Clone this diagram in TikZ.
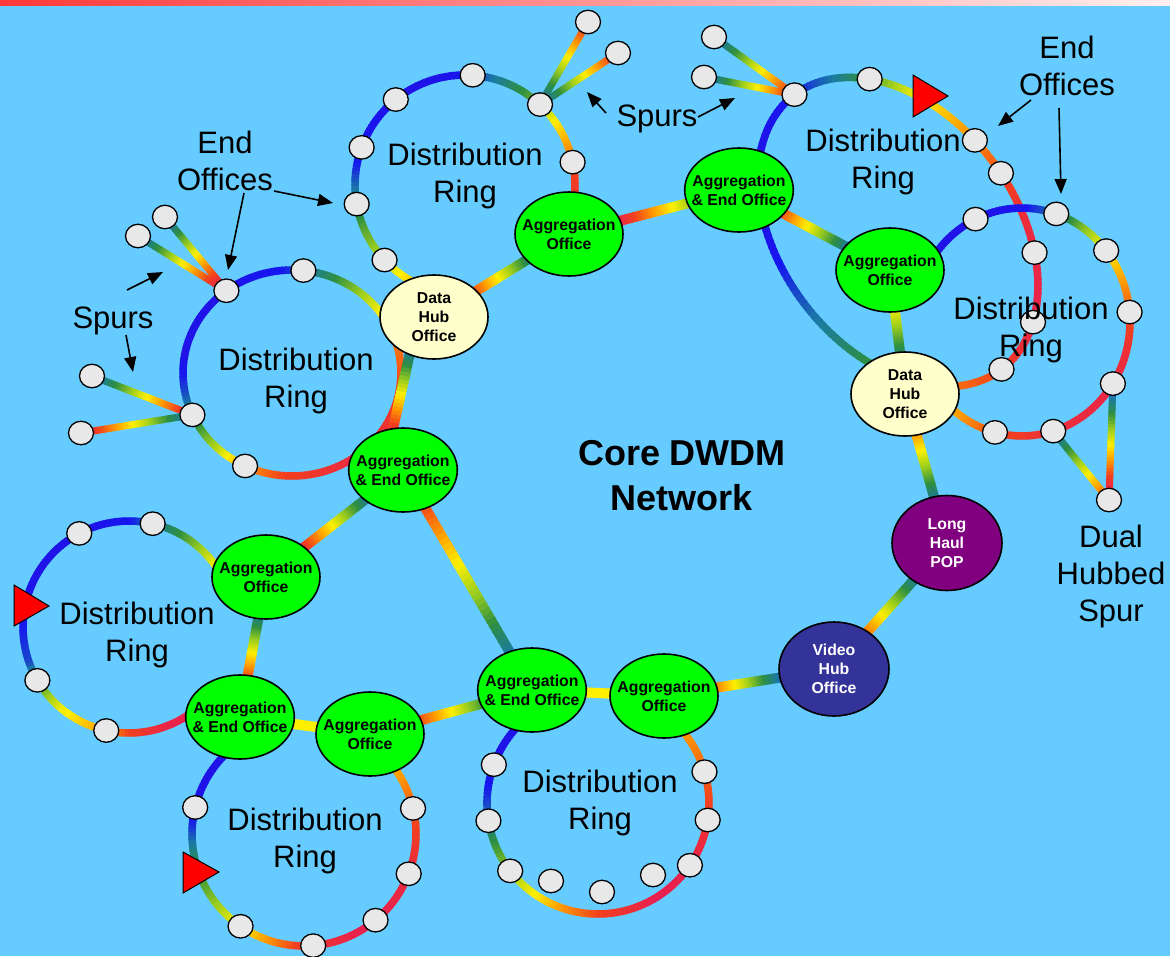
\documentclass[tikz,border=0pt]{standalone}
\usepackage{fontspec}
\setmainfont{Liberation Sans}
\usetikzlibrary{calc,shapes.geometric,arrows.meta}
\definecolor{bgblue}{HTML}{66CCFF}
\definecolor{rb0}{HTML}{E8204F}
\definecolor{rb1}{HTML}{F2401E}
\definecolor{rb2}{HTML}{FF9A00}
\definecolor{rb3}{HTML}{FFF000}
\definecolor{rb4}{HTML}{9ACD1E}
\definecolor{rb5}{HTML}{2E8F40}
\definecolor{rb6}{HTML}{1A7AA5}
\definecolor{rb7}{HTML}{1616F0}
\definecolor{rb8}{HTML}{2A10E0}
\definecolor{eoc}{HTML}{E8E8E8}
\definecolor{aggc}{HTML}{00FF00}
\definecolor{hubc}{HTML}{FFFFCC}
\definecolor{lhc}{HTML}{800080}
\definecolor{vhc}{HTML}{333399}
\definecolor{barL}{HTML}{FF3838}
\definecolor{barR}{HTML}{FFF0F0}
\pgfdeclarelayer{back}
\pgfdeclarelayer{lines}
\pgfsetlayers{back,lines,main}
\newcommand\setsegcol[1]{%
  \pgfmathtruncatemacro\ki{min(7,max(0,floor(#1)))}%
  \pgfmathtruncatemacro\kj{\ki+1}%
  \pgfmathsetmacro\pp{max(0,min(100,100*(\kj-(#1))))}%
  \colorlet{segcol}{rb\ki!\pp!rb\kj}}
\newcommand\setring[5]{\def\RX{#1}\def\RY{#2}\def\RA{#3}\def\RB{#4}\def\RR{#5}}
\newcommand\ringxy[3]{%
  \pgfmathsetmacro#2{\RX+\RA*cos(#1)*cos(\RR)-\RB*sin(#1)*sin(\RR)}%
  \pgfmathsetmacro#3{\RY+\RA*cos(#1)*sin(\RR)+\RB*sin(#1)*cos(\RR)}}
\newcommand\rarc[4]{%
  \pgfmathtruncatemacro\nseg{max(1,round(abs((#2)-(#1))/2))}%
  \pgfmathsetmacro\dirs{((#2)>(#1))*2-1}%
  \foreach \i in {1,...,\nseg}{%
    \pgfmathsetmacro\ta{(#1)+((#2)-(#1))*(\i-1)/\nseg-0.4*\dirs}%
    \pgfmathsetmacro\tb{(#1)+((#2)-(#1))*\i/\nseg+0.4*\dirs}%
    \pgfmathsetmacro\cc{(#3)+((#4)-(#3))*(\i-0.5)/\nseg}%
    \setsegcol{\cc}%
    \ringxy{\ta}{\xa}{\ya}\ringxy{\tb}{\xb}{\yb}%
    \draw[ringline,draw=segcol] (\xa,\ya) -- (\xb,\yb);}}
\newcommand\rarcs[1]{%
  \foreach \sT/\sC [remember=\sT as \pT (initially 0),remember=\sC as \pC (initially 0),count=\n] in {#1}{%
    \ifnum\n>1 \rarc{\pT}{\sT}{\pC}{\sC}\fi}}
\newcommand\rnode[2]{\ringxy{#2}{\xa}{\ya}\node[eo] (#1) at (\xa,\ya) {};}
\newcommand\rline[5][linkline]{%
  \path (#2) -- (#3) coordinate[pos=0] (lA) coordinate[pos=1] (lB);%
  \coordinate (lS) at ($(lA)!-5pt!(lB)$);%
  \coordinate (lE) at ($(lB)!-5pt!(lA)$);%
  \foreach \i in {1,...,30}{%
    \pgfmathsetmacro\sa{(\i-1)/30-0.008}%
    \pgfmathsetmacro\sb{\i/30+0.008}%
    \pgfmathsetmacro\cc{(#4)+((#5)-(#4))*(\i-0.5)/30}%
    \setsegcol{\cc}%
    \draw[#1,draw=segcol] ($(lS)!\sa!(lE)$) -- ($(lS)!\sb!(lE)$);}}
\begin{document}
\begin{tikzpicture}[x=1pt,y=-1pt,
  ringline/.style={line width=7.5pt},
  linkline/.style={line width=10pt},
  spurline/.style={line width=7pt},
  office/.style={ellipse,draw=black,line width=1.6pt,minimum width=108pt,minimum height=84pt,inner xsep=-9pt,inner ysep=0pt,align=center,font=\bfseries\fontsize{15.8}{19}\selectfont},
  agg/.style={office,fill=aggc},
  hub/.style={office,fill=hubc},
  pop/.style={office,fill=lhc,text=white,minimum width=110pt,minimum height=95pt},
  vhub/.style={office,fill=vhc,text=white,minimum width=110pt,minimum height=94pt},
  eo/.style={ellipse,draw=black,line width=1.3pt,fill=eoc,minimum width=25pt,minimum height=23.5pt,inner sep=0pt},
  lbl/.style={align=center,inner sep=0pt,font=\fontsize{31}{37}\selectfont},
  arr/.style={-{Triangle[length=15pt,width=12pt]},line width=1.6pt},
  redtri/.style={fill=red,draw=black,line width=1pt,line join=miter}]
\useasboundingbox (0,0) rectangle (1170,956);
\begin{pgfonlayer}{back}
\fill[bgblue] (0,0) rectangle (1170,956);
\shade[left color=barL,right color=barR] (0,0) rectangle (1170,5);
\end{pgfonlayer}

% ---------- offices ----------
\node[hub] (hub1) at (434,317) {Data\\Hub\\Office};
\node[agg] (ag1) at (569,234) {Aggregation\\Office};
\node[agg] (ae1) at (739,190) {Aggregation\\\& End Office};
\node[agg] (ag2) at (890,270) {Aggregation\\Office};
\node[hub] (hub2) at (905,394) {Data\\Hub\\Office};
\node[pop] (lh) at (947,543) {Long\\Haul\\POP};
\node[vhub] (vh) at (834,669) {Video\\Hub\\Office};
\node[agg] (ag3) at (664,696) {Aggregation\\Office};
\node[agg] (ae2) at (532,690) {Aggregation\\\& End Office};
\node[agg] (ae3) at (403,470) {Aggregation\\\& End Office};
\node[agg] (ag4) at (266,577) {Aggregation\\Office};
\node[agg] (ae4) at (240,717) {Aggregation\\\& End Office};
\node[agg] (ag5) at (370,734) {Aggregation\\Office};

% ---------- ring 1 ----------
\setring{465}{185}{110}{110}{0}
\rnode{r1a}{137}\rnode{r1b}{170}\rnode{r1c}{200}\rnode{r1d}{231}\rnode{r1e}{274}\rnode{r1f}{313}\rnode{r1g}{348}
\begin{pgfonlayer}{lines}
\rarcs{112/2.2, 137/3.6, 160/4.8, 178/6, 192/7, 240/7.5, 268/7.2, 285/6, 305/4.8, 313/4.2, 325/3, 340/2, 355/1, 372/0.5}
\end{pgfonlayer}
% ---------- ring 2 ----------
\setring{292}{373}{109}{103}{0}
\rnode{r2a}{-127}\rnode{r2b}{-84}\rnode{r2c}{156}\rnode{r2d}{115.5}
\begin{pgfonlayer}{lines}
\rarcs{-310/0.2, -265/1, -244/2, -225/3.8, -204/5.5, -190/6.5, -170/7.5, -130/7.5, -95/7, -78/5.8, -60/4.6, -35/3, -25/1.8, 10/1, 45/0.3}
\end{pgfonlayer}
% ---------- ring 3 ----------
\setring{898}{232}{172}{118}{53}
\rnode{r3a}{180}\rnode{r3b}{-144}\rnode{r3c}{-99}\rnode{r3d}{-85}\rnode{r3e}{-55}\rnode{r3f}{-27}\rnode{r3g}{0}
\begin{pgfonlayer}{lines}
\rarcs{50/4.8, 60/5, 90/6.3, 112/7.3, 150/7.5, 180/7, 200/6, 216/4.8, 232/3.4, 245/2.6, 261/1.8, 275/1.2, 290/0.5, 305/0.2, 333/0.1, 350/0.6, 360/1, 390/1.6}
\end{pgfonlayer}
% ---------- ring 4 ----------
\setring{1022}{322}{108}{114}{0}
\rnode{r4a}{-115.5}\rnode{r4b}{-71.5}\rnode{r4c}{-38.8}\rnode{r4d}{-5}\rnode{r4e}{32.7}\rnode{r4f}{73.2}\rnode{r4g}{104.5}
\begin{pgfonlayer}{lines}
\rarcs{-150/7.5, -115/7.5, -90/7.2, -72/6, -55/4.2, -39/3, -20/2, -5/1.3, 15/0.5, 33/0.2, 73/0.4, 90/0.8, 104/1.1, 125/2, 150/2.8}
\end{pgfonlayer}
% ---------- ring 5 ----------
\setring{129}{627}{106}{106}{0}
\rnode{r5a}{-118}\rnode{r5b}{-77.1}\rnode{r5c}{149.8}\rnode{r5d}{102.4}
\begin{pgfonlayer}{lines}
\rarcs{-35/3, -55/4.5, -77/6, -90/7, -118/7.5, -150/7.5, -170/7.2, -200/6.5, -210/5, -230/3.2, -258/2, -270/1, -290/0.2, -305/0}
\end{pgfonlayer}
% ---------- ring 6 ----------
\setring{304}{834}{112}{112}{0}
\rnode{r6a}{-166.3}\rnode{r6b}{-13.2}\rnode{r6c}{20.8}\rnode{r6d}{50.3}\rnode{r6e}{85.3}\rnode{r6f}{124.5}
\begin{pgfonlayer}{lines}
\rarcs{-35/2.2, -13/1.3, 20/0.3, 60/0, 90/0.7, 110/2, 125/3, 145/4.2, 170/5.5, 185/6.8, 200/7.5, 225/7.5}
\end{pgfonlayer}
% ---------- ring 7 ----------
\setring{598}{803}{111}{111}{0}
\rnode{r7a}{-159.8}\rnode{r7b}{170.8}\rnode{r7c}{142.3}\rnode{r7d}{34.1}\rnode{r7e}{-16.4}\rnode{r7f}{8.8}
\node[eo] (r7g) at (551,881) {};
\node[eo] (r7h) at (602,892) {};
\node[eo] (r7i) at (653,875) {};
\begin{pgfonlayer}{lines}
\rarcs{-40/2, -16/1.4, 0/1, 9/0.6, 34/0.1, 60/0, 90/1, 110/2, 125/3, 142/4, 160/5, 171/6, 185/6.8, 200/7.5, 225/7.5}
\end{pgfonlayer}

% ---------- spur end nodes ----------
\node[eo] (s1a) at (588,22) {};
\node[eo] (s1b) at (618,53) {};
\node[eo] (s2a) at (165,217) {};
\node[eo] (s2b) at (138,236) {};
\node[eo] (s2c) at (92,376) {};
\node[eo] (s2d) at (81,433) {};
\node[eo] (s3a) at (714,37) {};
\node[eo] (s3b) at (704,77) {};
\node[eo] (s4) at (1109,500) {};
\coordinate (l14s) at (414,335);
\coordinate (l14e) at (390,442);

% ---------- links and spurs ----------
\begin{pgfonlayer}{lines}
\rline{hub1}{ag1}{1}{5.5}
\rline{ag1}{ae1}{0}{4}
\rline{ae1}{ag2}{1}{6}
\rline{ag2}{hub2}{3}{5.5}
\rline{hub2}{lh}{1.8}{6}
\rline{lh}{vh}{6}{1.5}
\rline{vh}{ag3}{6.5}{1.5}
\rline{ag3}{ae2}{3}{3}
\rline{ae2}{ag5}{5}{1}
\rline{ae3}{ae2}{1}{6}
\rline{ae3}{ag4}{6}{0.5}
\rline{ag4}{ae4}{6}{1}
\rline{ae4}{ag5}{3}{3}
\rline{l14s}{l14e}{7.5}{-0.5}
\rline[spurline]{r1f}{s1a}{6}{1}
\rline[spurline]{r1f}{s1b}{6}{1}
\rline[spurline]{r2a}{s2a}{0}{6}
\rline[spurline]{r2a}{s2b}{0}{6}
\rline[spurline]{r2c}{s2c}{0.5}{6}
\rline[spurline]{r2c}{s2d}{6}{0.5}
\rline[spurline]{r3a}{s3a}{1}{6}
\rline[spurline]{r3a}{s3b}{1}{6}
\rline[spurline]{r4f}{s4}{6}{1.5}
\rline[spurline]{r4e}{s4}{6.5}{0}
\end{pgfonlayer}

% ---------- add/drop triangles ----------
\draw[redtri] (913,75) -- (913,117) -- (948,96) -- cycle;
\draw[redtri] (14,585) -- (14,626) -- (49,606) -- cycle;
\draw[redtri] (183,852) -- (183,893) -- (219,872) -- cycle;

% ---------- labels ----------
\node[lbl] (dr1) at (465,175.5) {Distribution\\Ring};
\node[lbl] (dr3) at (883,161.5) {Distribution\\Ring};
\node[lbl] (dr4) at (1031,330) {Distribution\\Ring};
\node[lbl] (dr2) at (296,381) {Distribution\\Ring};
\node[lbl] (dr5) at (137,634.5) {Distribution\\Ring};
\node[lbl] (dr6) at (305,841) {Distribution\\Ring};
\node[lbl] (dr7) at (600,803) {Distribution\\Ring};
\node[lbl] (eol) at (225,160.7) {End\\Offices};
\node[lbl] (eor) at (1067,66.2) {End\\Offices};
\node[lbl] (spt) at (657,119) {Spurs};
\node[lbl] (spl) at (113,321) {Spurs};
\node[lbl] (dhs) at (1111,576) {Dual\\Hubbed\\Spur};
\node[align=center,inner sep=0pt,font=\bfseries\fontsize{36}{45}\selectfont] (core) at (682,476) {Core DWDM\\Network};

% ---------- arrows ----------
\coordinate (a1s) at (274,191); \coordinate (a1e) at (333,203);
\coordinate (a2s) at (244,193); \coordinate (a2e) at (228,270);
\coordinate (a3s) at (127,290); \coordinate (a3e) at (163,272);
\coordinate (a4s) at (126,335); \coordinate (a4e) at (133,372);
\coordinate (a5s) at (606,113); \coordinate (a5e) at (587,92);
\coordinate (a6s) at (698,117); \coordinate (a6e) at (735,98);
\coordinate (a7s) at (1031,100); \coordinate (a7e) at (998,126);
\coordinate (a8s) at (1059,108); \coordinate (a8e) at (1061,194);
\draw[arr] (a1s) -- (a1e);
\draw[arr] (a2s) -- (a2e);
\draw[arr] (a3s) -- (a3e);
\draw[arr] (a4s) -- (a4e);
\draw[arr] (a5s) -- (a5e);
\draw[arr] (a6s) -- (a6e);
\draw[arr] (a7s) -- (a7e);
\draw[arr] (a8s) -- (a8e);
\end{tikzpicture}
\end{document}
